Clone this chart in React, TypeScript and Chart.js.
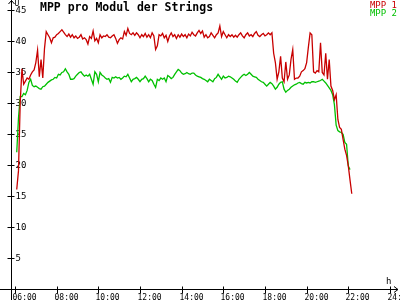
import React, { useEffect, useRef } from "react";
import { Chart, registerables } from "chart.js";

Chart.register(...registerables);

const TITLE = "MPP pro Modul der Strings";
const SERIES_NAMES = ["MPP 1", "MPP 2"];
const SERIES_COLORS = ["#c80000", "#00c000"];
const Y_UNIT = "U";
const X_UNIT = "h";

// samples every 5 minutes starting 06:05
const START_HOUR = 6 + 5 / 60;
const STEP_HOURS = 5 / 60;

const mpp1 = [
  16, 19, 30, 35.5, 33, 33.5, 34, 33.8, 34.5, 35, 35.3, 36.5,
  38.5, 34.2, 37, 34, 38.8, 41.5, 41, 40.5, 39.7, 40.5, 40.6, 41,
  41.2, 41.5, 41.8, 41.4, 41, 40.7, 41.1, 40.6, 41, 40.5, 40.8, 40.4,
  40.6, 41, 40.3, 40.5, 40.2, 39.5, 40.7, 40.4, 41.6, 40, 40.4, 39.7,
  41, 40.5, 40.8, 40.7, 41, 40.6, 40.5, 40.8, 41, 40.4, 39.6, 40.2,
  40.5, 40.3, 41.5, 40.9, 42, 41.2, 41, 41.3, 40.9, 41.3, 41, 40.5,
  41, 40.7, 41.2, 40.6, 41, 40.5, 41.3, 40.8, 38.6, 39.2, 41, 40.8,
  41.2, 40.5, 40.9, 39.9, 40.8, 41.3, 40.7, 41, 40.4, 41, 40.6, 41.1,
  40.7, 41, 40.5, 41.1, 40.8, 41.4, 41, 40.8, 41.3, 41.7, 41.2, 41.6,
  40.6, 41, 40.5, 40.7, 41.3, 40.9, 40.5, 41, 41.3, 42.4, 40.7, 41.5,
  41, 40.5, 41, 40.7, 41, 40.6, 40.9, 40.6, 41, 41.3, 40.8, 40.5,
  41, 41.3, 40.8, 41, 40.7, 41.2, 41.5, 40.9, 40.7, 41, 41.2, 40.8,
  41, 41.3, 41, 41.3, 38, 36.5, 33.8, 35, 37.5, 34, 33.4, 36.6,
  33.8, 34.5, 37, 38.6, 33.8, 34, 34, 34.3, 35, 35.2, 35.5, 36.5,
  39, 41.3, 41, 35, 34.8, 35.2, 35, 39.7, 34.9, 34.5, 38, 33.8,
  37, 32.7, 32, 30.5, 31.3, 27.3, 26, 25.7, 24.1, 22.5, 21.5, 19.8, 17.5, 15.3,
];

const mpp2 = [
  22, 27.5, 31, 31, 31.5, 31.3, 32, 33.3, 33.8, 32.8, 32.6, 32.7,
  32.5, 32.3, 32.2, 32.6, 32.7, 33, 33.3, 33.5, 33.7, 33.8, 34.1, 34,
  34.6, 34.5, 34.9, 35, 35.5, 35, 34.6, 33.8, 33.8, 33.9, 34.3, 34.6,
  34.9, 35, 34.6, 34.3, 34.5, 34.3, 34.6, 33.8, 33, 35, 34.6, 33.4,
  34.9, 34.5, 34.3, 34, 33.8, 33.9, 33.3, 34.1, 34, 34.2, 34, 34.1,
  33.8, 34, 34.3, 34.2, 34.6, 34, 33.4, 33.8, 33.9, 34.1, 33.8, 33.4,
  33.8, 33.9, 34.3, 33.9, 33.4, 33.8, 33.6, 33, 32.5, 33.8, 33.6, 34,
  33.8, 34, 33.4, 34.4, 34.2, 33.9, 34.1, 34.6, 35, 35.4, 35.2, 34.8,
  34.6, 34.7, 34.9, 34.7, 34.6, 34.8, 34.8, 34.5, 34.3, 34.2, 34.1, 33.9,
  33.8, 33.6, 33.4, 33.8, 33.6, 33.4, 33.9, 34.1, 34.6, 34.2, 33.8, 34.3,
  34, 34.1, 34.3, 34.2, 34, 33.8, 33.5, 33.3, 33.8, 34.1, 34.4, 34.6,
  34.4, 34.6, 34.9, 34.6, 34.3, 34.2, 34.1, 33.8, 33.6, 33.4, 33.3, 33,
  32.7, 33, 33.3, 33.1, 32.7, 32.2, 32.5, 33, 33.3, 33.4, 32.2, 31.7,
  32, 32.2, 32.5, 32.7, 32.9, 33, 33.2, 33.3, 33.1, 33, 33.3, 33.2,
  33.3, 33.2, 33.4, 33.4, 33.3, 33.4, 33.5, 33.6, 33.8, 33.5, 33.2, 32.8,
  32.4, 32, 31.3, 29.7, 26.4, 25.5, 25.3, 25.2, 24.9, 23.6, 23.3, 19.8, 19.2,
];

const Y_TICKS = [5, 10, 15, 20, 25, 30, 35, 40, 45];
const X_TICKS = [6, 8, 10, 12, 14, 16, 18, 20, 22, 24];
const X_TICK_LABELS = ["06:00", "08:00", "10:00", "12:00", "14:00", "16:00", "18:00", "20:00", "22:00", "24:00"];

const MONO = '"DejaVu Sans Mono", "Liberation Mono", monospace';

const toPoints = (vals: number[]) =>
  vals.map((v, i) => ({ x: START_HOUR + i * STEP_HOURS, y: v }));

const axesPlugin = {
  id: "customAxes",
  beforeDatasetsDraw(chart: any) {
    const { ctx, scales } = chart;
    const xs = scales.x;
    const ys = scales.y;
    const ax = Math.round(xs.left) + 0.5;
    const ay = Math.round(ys.getPixelForValue(0)) + 0.5;
    ctx.save();
    ctx.strokeStyle = "#000";
    ctx.fillStyle = "#000";
    ctx.lineWidth = 1;
    ctx.beginPath();
    ctx.moveTo(ax, 0);
    ctx.lineTo(ax, 300);
    ctx.moveTo(0, ay);
    ctx.lineTo(398, ay);
    ctx.moveTo(ax - 3, 4);
    ctx.lineTo(ax, 0.5);
    ctx.lineTo(ax + 3, 4);
    ctx.moveTo(394, ay - 3);
    ctx.lineTo(398, ay);
    ctx.lineTo(394, ay + 3);
    ctx.stroke();

    ctx.font = `9px ${MONO}`;
    ctx.textAlign = "left";
    ctx.textBaseline = "middle";
    Y_TICKS.forEach((v) => {
      const py = Math.round(ys.getPixelForValue(v)) + 0.5;
      ctx.beginPath();
      ctx.moveTo(ax - 4, py);
      ctx.lineTo(ax + 3, py);
      ctx.stroke();
      ctx.fillText(String(v), ax + 4, py);
    });

    ctx.font = `8px ${MONO}`;
    ctx.textBaseline = "top";
    X_TICKS.forEach((h, i) => {
      const px = Math.round(xs.getPixelForValue(h)) + 0.5;
      ctx.beginPath();
      ctx.moveTo(px, ay - 3);
      ctx.lineTo(px, ay + 4);
      ctx.stroke();
      ctx.fillText(X_TICK_LABELS[i], px - 3, ay + 4);
    });

    ctx.font = `8px ${MONO}`;
    ctx.fillText(Y_UNIT, ax + 3, 0);
    ctx.font = `9px ${MONO}`;
    ctx.fillText(X_UNIT, 386, ay - 12);

    ctx.font = `bold 11.5px ${MONO}`;
    ctx.fillText(TITLE, 40, 2);

    ctx.font = `9px ${MONO}`;
    ctx.textAlign = "right";
    ctx.textBaseline = "alphabetic";
    ctx.fillStyle = SERIES_COLORS[0];
    ctx.fillText(SERIES_NAMES[0], 397, 8);
    ctx.fillStyle = SERIES_COLORS[1];
    ctx.fillText(SERIES_NAMES[1], 397, 16);
    ctx.restore();
  },
};

export default function App() {
  const ref = useRef<HTMLCanvasElement | null>(null);
  useEffect(() => {
    document.body.style.margin = "0";
    const canvas = ref.current;
    if (!canvas) return;
    const chart = new Chart(canvas, {
      type: "line",
      data: {
        datasets: [
          {
            label: SERIES_NAMES[0],
            data: toPoints(mpp1),
            borderColor: SERIES_COLORS[0],
            borderWidth: 1.3,
            pointRadius: 0,
            tension: 0,
          },
          {
            label: SERIES_NAMES[1],
            data: toPoints(mpp2),
            borderColor: SERIES_COLORS[1],
            borderWidth: 1.3,
            pointRadius: 0,
            tension: 0,
          },
        ],
      },
      options: {
        responsive: false,
        animation: false,
        devicePixelRatio: 1,
        layout: { padding: { left: 11, right: 4, top: 3, bottom: 11.5 } },
        plugins: { legend: { display: false }, title: { display: false }, tooltip: { enabled: false } },
        scales: {
          x: { type: "linear", display: false, min: 5.808, max: 24.29 },
          y: { type: "linear", display: false, min: 0, max: 46.12 },
        },
      },
      plugins: [axesPlugin],
    });
    return () => chart.destroy();
  }, []);
  return (
    <div style={{ width: 400, height: 300, background: "#fff" }}>
      <canvas ref={ref} width={400} height={300} style={{ display: "block" }} />
    </div>
  );
}
